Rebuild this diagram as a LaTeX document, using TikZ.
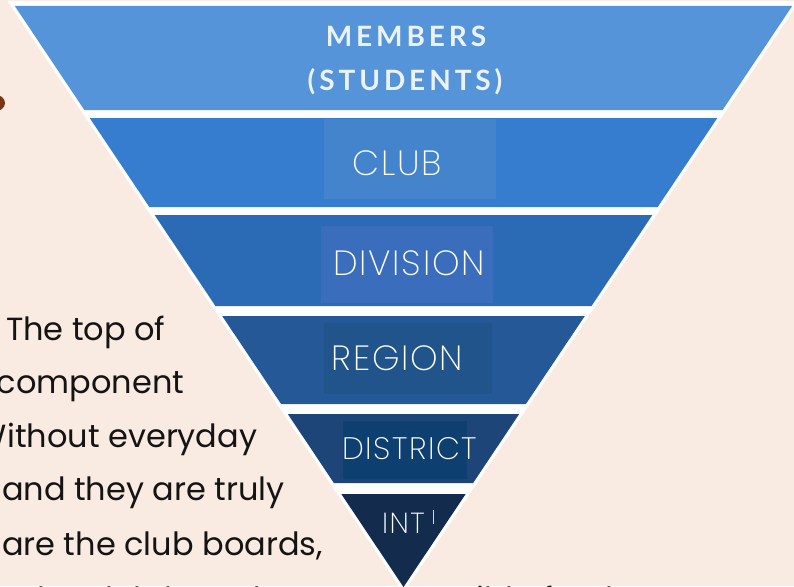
\documentclass[tikz,border=0pt]{standalone}
\usepackage{fontspec}
\newfontfamily\bodyfont{Poppins}
\IfFontExistsTF{Poppins ExtraLight}{\newfontfamily\labelfont[LetterSpace=5]{Poppins ExtraLight}}{%
 \IfFontExistsTF{Fira Sans Light}{\newfontfamily\labelfont[LetterSpace=5]{Fira Sans Light}}{%
  \IfFontExistsTF{Open Sans Light}{\newfontfamily\labelfont[LetterSpace=5]{Open Sans Light}}{%
   \IfFontExistsTF{Noto Sans Light}{\newfontfamily\labelfont[LetterSpace=5]{Noto Sans Light}}{%
    \newfontfamily\labelfont[LetterSpace=5]{Poppins}}}}}
\newfontfamily\headfont[LetterSpace=14]{Lato}
\definecolor{bg}{RGB}{249,235,226}
\definecolor{bandA}{RGB}{85,148,216}
\definecolor{bandB}{RGB}{54,125,208}
\definecolor{bandC}{RGB}{43,106,181}
\definecolor{bandD}{RGB}{36,88,150}
\definecolor{bandE}{RGB}{30,69,119}
\definecolor{bandF}{RGB}{19,44,77}
\definecolor{boxB}{RGB}{67,132,204}
\definecolor{boxC}{RGB}{58,110,189}
\definecolor{boxD}{RGB}{34,84,140}
\definecolor{boxE}{RGB}{14,63,113}
\definecolor{headtxt}{RGB}{236,242,250}
\definecolor{bodytxt}{RGB}{20,20,20}
\definecolor{dotc}{RGB}{122,52,22}
\begin{document}
\begin{tikzpicture}[x=1pt,y=-1pt,
  lblbox/.style={inner sep=0pt, outer sep=0pt, draw=none},
  lbl/.style={inner sep=0pt, outer sep=0pt, text=white},
  head/.style={inner sep=0pt, outer sep=0pt, text=headtxt, font=\headfont\bfseries\fontsize{28}{28}\selectfont},
  body/.style={inner sep=0pt, outer sep=0pt, anchor=base west, text=bodytxt, font=\bodyfont\fontsize{32}{32}\selectfont}]
\useasboundingbox (0,0) rectangle (794,586);
\clip (0,0) rectangle (794,586);
\fill[bg] (0,0) rectangle (794,586);
% brown dot at the left edge
\fill[dotc] (-4,103) ellipse [x radius=9pt, y radius=8pt];
% left text
\node[body] (l1) at (6,340) {The top of};
\node[body] (l2) at (-3,393) {component};
\node[body] (l3) at (-24,447) {Without everyday};
\node[body] (l4) at (2,500) {and they are truly};
\node[body] (l5) at (2,555) {are the club boards,};
\node[body] (l6) at (20,610) {The club boards are responsible for the};
% white outline triangle
\fill[white] (7.5,1) -- (799.5,1) -- (403.5,593) -- cycle;
% bands
\fill[bandA] (14.8,6) -- (792.2,6) -- (722.6,110) -- (84.4,110) -- cycle;
\fill[bandB] (89.7,118) -- (717.3,118) -- (657.7,207) -- (149.3,207) -- cycle;
\fill[bandC] (154.6,215) -- (652.4,215) -- (591.5,306) -- (215.5,306) -- cycle;
\fill[bandD] (222.2,316) -- (584.8,316) -- (525.9,404) -- (281.1,404) -- cycle;
\fill[bandE] (287.8,414) -- (519.2,414) -- (473.1,483) -- (333.9,483) -- cycle;
\fill[bandF] (341.3,494) -- (465.7,494) -- (403.5,587) -- cycle;
% label boxes
\node[lblbox, fill=boxB, minimum width=172pt, minimum height=80pt] (clubbox) at (410,159) {};
\node[lblbox, fill=boxC, minimum width=172pt, minimum height=77pt] (divbox) at (407,264.5) {};
\node[lblbox, fill=boxD, minimum width=168pt, minimum height=71pt] (regbox) at (408,358.5) {};
\node[lblbox, fill=boxE, minimum width=124pt, minimum height=58pt] (disbox) at (405,450) {};
% labels
\node[head, anchor=base] (members) at (406,47) {MEMBERS};
\node[head, anchor=base] (students) at (405,90) {(STUDENTS)};
\node[lbl, font=\labelfont\fontsize{35}{35}\selectfont] (club) at (397,163) {CLUB};
\node[lbl, font=\labelfont\fontsize{35}{35}\selectfont] (division) at (409,263) {DIVISION};
\node[lbl, font=\labelfont\fontsize{35}{35}\selectfont] (region) at (397.5,358) {REGION};
\node[lbl, font=\labelfont\fontsize{31}{31}\selectfont] (district) at (409.5,449) {DISTRICT};
\node[lbl, font=\labelfont\fontsize{29}{29}\selectfont] (int) at (403.5,523) {INT};
\draw[white!80!bandF, line width=0.8pt] (433.5,510) -- (433.5,524);
\end{tikzpicture}
\end{document}
